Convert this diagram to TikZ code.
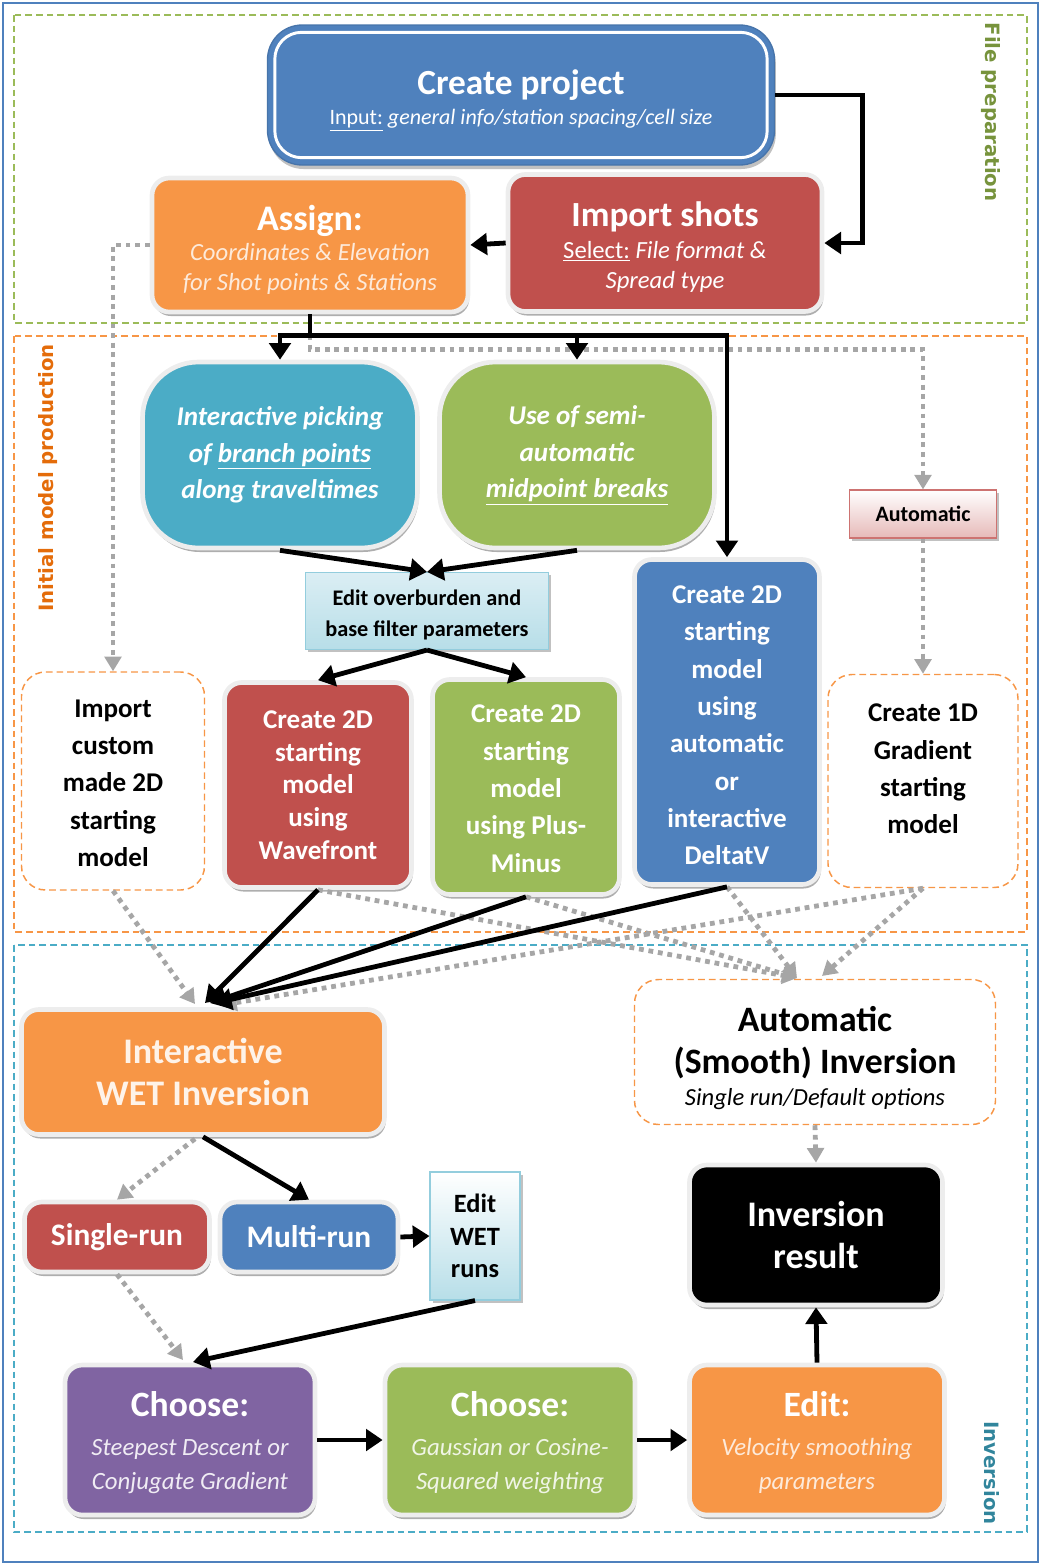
\documentclass[tikz,border=0pt]{standalone}
\usepackage{fontspec}
\setmainfont{Carlito}
\newfontfamily\labfont{DejaVu Sans}
\usetikzlibrary{arrows.meta,shadows,calc}
\definecolor{cBlue}{HTML}{4F81BD}
\definecolor{cOrange}{HTML}{F79646}
\definecolor{cRed}{HTML}{C0504D}
\definecolor{cGreen}{HTML}{9BBB59}
\definecolor{cCyan}{HTML}{4BACC6}
\definecolor{cPurple}{HTML}{8064A2}
\definecolor{cGray}{HTML}{A6A6A6}
\definecolor{cFileLab}{HTML}{77933C}
\definecolor{cInitLab}{HTML}{E46C0A}
\definecolor{cInvLab}{HTML}{31859C}
\definecolor{cLtBlueA}{HTML}{DBEEF4}
\definecolor{cLtBlueB}{HTML}{B7DEE8}
\definecolor{cLtBlueD}{HTML}{93CDDD}
\definecolor{cPink}{HTML}{E6B9B8}
\newcommand\fs[2]{\fontsize{#1}{#2}\selectfont}
\newcommand\tstrut[1]{\rule{0pt}{#1}}
\newcommand\bstrut[1]{\rule[-#1]{0pt}{#1}}
\tikzset{
  every node/.style={align=center, inner sep=0pt},
  sz/.style 2 args={minimum width=#1*0.75pt, minimum height=#2*0.75pt},
  bevel/.style={rounded corners=13pt, fill=#1, draw=black!7, line width=3.5pt,
     drop shadow={shadow xshift=1pt, shadow yshift=-3pt, opacity=0.45, fill=black!70},
     text=white},
  dbox/.style={draw=cOrange, dash pattern=on 5pt off 3pt, line width=1.1pt,
     rounded corners=18pt, fill=white, text=black},
  region/.style={dash pattern=on 5pt off 3pt, line width=1.2pt},
  blk/.style={line width=3.6pt},
  barr/.style={blk, -{Triangle[length=12.5pt,width=16pt]}},
  gdot/.style={draw=cGray, line width=3.6pt, dash pattern=on 3.6pt off 3.6pt},
  garr/.style={gdot, -{Triangle[length=11pt,width=12.5pt]}},
  lab/.style={font=\labfont\bfseries\fs{14.8}{17}},
  lshadow/.style={drop shadow={shadow xshift=2pt, shadow yshift=-2pt, opacity=0.35, fill=black!70}},
}
\begin{document}
\begin{tikzpicture}[x=0.75pt, y=-0.75pt]
\useasboundingbox (0,0) rectangle (1041,1564);
% outer frame and regions
\draw[cBlue, line width=1.2pt] (3,3) rectangle (1038,1562);
\draw[region, draw=cGreen] (14,15) rectangle (1027,323);
\draw[region, draw=cOrange] (14,336) rectangle (1027,932);
\draw[region, draw=cCyan] (14,945) rectangle (1027,1532);
\node[lab, rotate=-90, text=cFileLab] (lf) at (991,112) {File preparation};
\node[lab, rotate=90, text=cInitLab] (li) at (48,478) {Initial model production};
\node[lab, rotate=-90, text=cInvLab] (lv) at (992,1473) {Inversion};

% ---------------- File preparation
\node[sz={507}{140}, fill=cBlue, draw=cBlue!90!black, line width=1pt, rounded corners=26pt,
      drop shadow={shadow xshift=1pt, shadow yshift=-3pt, opacity=0.35, fill=black!70},
      text=white, font=\fs{16.5}{18}] (cp) at (521,95)
  {{\fs{26.5}{28}\bfseries\tstrut{26.5pt}Create project}\\[5pt]
   \underline{Input:} {\itshape general info/station spacing/cell size}};
\draw[white, line width=2.2pt, rounded corners=20pt]
  ($(cp.south west)+(8,-8)$) rectangle ($(cp.north east)+(-8,8)$);

\node[bevel=cOrange, sz={316}{134}, font=\fs{18.5}{22.5}\itshape, text=white!80!cOrange] (as) at (310,245)
  {{\fs{27}{28}\bfseries\upshape\color{white}\tstrut{26pt}Assign:}\\[0pt]
   Coordinates \& Elevation\\ for Shot points \& Stations};
\node[bevel=cRed, sz={314}{137}, font=\fs{18.5}{22.5}] (is) at (665,243)
  {{\fs{26.5}{28}\bfseries\tstrut{24.5pt}Import shots}\\[1pt]
   \underline{Select:} {\itshape File format \&}\\ {\itshape Spread type}};

% ---------------- Initial model production
\node[bevel=cCyan, rounded corners=42pt, sz={275}{186}, font=\fs{20.3}{27.5}\bfseries\itshape] (ip) at (280,455)
  {Interactive picking\\ of \underline{branch points}\\ along traveltimes};
\node[bevel=cGreen, rounded corners=42pt, sz={275}{186}, font=\fs{20.3}{27.5}\bfseries\itshape] (sa) at (577,455)
  {Use of semi-\\ automatic\\ \underline{midpoint breaks}};
\node[sz={243}{77}, top color=cLtBlueA, bottom color=cLtBlueB, draw=cLtBlueD, line width=0.8pt,
      lshadow, font=\fs{16.7}{23}\bfseries] (eo) at (427,611)
  {\tstrut{17.7pt}Edit overburden and\\ base filter parameters};
\node[sz={147}{48}, top color=white, bottom color=cPink, draw=cRed!80, line width=0.8pt,
      lshadow, font=\fs{16.5}{18}\bfseries] (au) at (923,514) {Automatic};

\node[dbox, sz={183}{218}, font=\fs{20.3}{28}\bfseries] (ic) at (113,781)
  {\tstrut{16.4pt}Import\\ custom\\ made 2D\\ starting\\ model};
\node[bevel=cRed, sz={187}{205}, font=\fs{20.3}{24.5}\bfseries] (wf) at (318,785)
  {Create 2D\\ starting\\ model\\ using\\ Wavefront};
\node[bevel=cGreen, sz={187}{215}, font=\fs{20.3}{28}\bfseries] (pm) at (526,787)
  {\tstrut{16pt}Create 2D\\ starting\\ model\\ using Plus-\\ Minus};
\node[bevel=cBlue, sz={185}{325}, font=\fs{20.3}{28}\bfseries] (dv) at (727,722)
  {\tstrut{18.4pt}Create 2D\\ starting\\ model\\ using\\ automatic\\ or\\ interactive\\ DeltatV};
\node[dbox, sz={190}{213}, font=\fs{20.3}{28}\bfseries] (c1) at (923,781)
  {Create 1D\\ Gradient\\ starting\\ model\bstrut{18pt}};

% ---------------- Inversion
\node[bevel=cOrange, sz={363}{125}, text=white!88!cOrange, font=\fs{27}{32}\bfseries] (wet) at (203,1072)
  {Interactive\\ WET Inversion};
\node[dbox, sz={361}{145}, font=\fs{26.8}{32}\bfseries] (ai) at (815,1052)
  {\tstrut{27.7pt}Automatic\\ (Smooth) Inversion\\[-8pt]
   {\fs{18.4}{20}\mdseries\itshape Single run/Default options}};
\node[bevel=cRed, sz={185}{70}, font=\fs{23.5}{25}\bfseries] (sr) at (117,1237) {Single-run};
\node[bevel=cBlue, sz={178}{70}, font=\fs{23.5}{25}\bfseries] (mr) at (309,1237) {Multi-run};
\node[sz={90}{128}, top color=white, bottom color=cLtBlueB, draw=cLtBlueD, line width=0.8pt,
      lshadow, font=\fs{19.8}{24.5}\bfseries] (ew) at (475,1236)
  {Edit\\ WET\\ runs};
\node[bevel=black, sz={253}{140}, font=\fs{27}{32}\bfseries] (ir) at (816,1235)
  {Inversion\\ result};
\node[bevel=cPurple, sz={250}{150}, font=\fs{18.6}{25.5}\itshape, text=white!88!cPurple] (cs) at (190,1440)
  {{\fs{26.7}{28}\bfseries\upshape\color{white}\tstrut{22.6pt}Choose:}\\[4.3pt]
   Steepest Descent or\\ Conjugate Gradient};
\node[bevel=cGreen, sz={250}{150}, font=\fs{18.6}{25.5}\itshape, text=white!85!cGreen] (cg) at (510,1440)
  {{\fs{26.7}{28}\bfseries\upshape\color{white}\tstrut{22.6pt}Choose:}\\[4.3pt]
   Gaussian or Cosine-\\ Squared weighting};
\node[bevel=cOrange, sz={255}{150}, font=\fs{18.6}{25.5}\itshape, text=white!80!cOrange] (ev) at (817,1440)
  {{\fs{26.7}{28}\bfseries\upshape\color{white}\tstrut{22.6pt}Edit:}\\[4.3pt]
   Velocity smoothing\\ parameters};

% ---------------- connectors: file preparation
\draw[barr] (cp.east) -- ++(87,0) |- (is.east);
\draw[barr] (is.west) -- (as.east);
\draw[blk] (as.south) -- ++(0,21) coordinate (j0);
\draw[garr] (as.west) -| (ic.north);
\draw[garr] (j0) -- ++(0,14) -| (au.north);
\draw[barr] (j0) -| (ip.north);
\draw[barr] (j0) -| (dv.north);
\draw[barr] (sa.north |- j0) -- (sa.north);

% ---------------- connectors: initial model production
\draw[barr] (ip.south) -- (eo.north);
\draw[barr] (sa.south) -- (eo.north);
\draw[barr] (eo.south) -- (wf.north);
\draw[barr] (eo.south) -- (pm.north);
\draw[garr] (au.south) -- (c1.north);

\coordinate (w1) at (195,1004);
\coordinate (w2) at (205,1003);
\coordinate (w3) at (210,1003);
\coordinate (w4) at (215,1003);
\coordinate (w5) at (222,1005);
\coordinate (a1) at (797,978);
\coordinate (a2) at (822,976);
\draw[garr] (wf.south) -- (a1);
\draw[garr] (pm.south) -- (a1);
\draw[garr] (dv.south) -- (a1);
\draw[garr] (c1.south) -- (a2);
\draw[garr] (c1.south) -- (w5);
\draw[garr] (ic.south) -- (w1);
\draw[barr] (wf.south) -- (w2);
\draw[barr] (pm.south) -- (w3);
\draw[barr] (dv.south) -- (w4);

% ---------------- connectors: inversion
\coordinate (s1) at (183,1360);
\coordinate (s2) at (193,1362);
\draw[garr] ($(wet.south)+(-8,2)$) -- (sr.north);
\draw[barr] (wet.south) -- (mr.north);
\draw[barr] (mr.east) -- (ew.west);
\draw[garr] (sr.south) -- (s1);
\draw[barr] (ew.south) -- (s2);
\draw[barr] (cs.east) -- (cg.west);
\draw[barr] (cg.east) -- (ev.west);
\draw[barr] (ev.north) -- (ir.south);
\draw[garr] (ai.south) -- (ir.north);
\end{tikzpicture}
\end{document}
